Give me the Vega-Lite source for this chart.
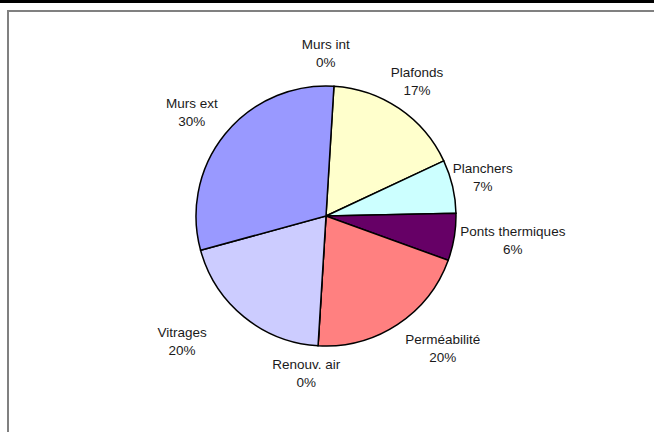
{
  "$schema": "https://vega.github.io/schema/vega-lite/v6.json",
  "padding": 0,
  "background": "white",
  "spacing": 0,
  "config": {"view": {"stroke": null}},
  "vconcat": [
    {"width": 654, "height": 3, "view": {"fill": "black", "stroke": null}, "data": {"values": []}, "mark": "point"},
    {"width": 654, "height": 7, "data": {"values": []}, "mark": "point"},
    {
      "spacing": 0,
      "hconcat": [
        {"width": 7, "height": 2, "data": {"values": []}, "mark": "point"},
        {"width": 647, "height": 2, "view": {"fill": "#808080", "stroke": null}, "data": {"values": []}, "mark": "point"}
      ]
    },
    {
      "spacing": 0,
      "hconcat": [
        {"width": 7, "height": 420, "data": {"values": []}, "mark": "point"},
        {"width": 2, "height": 420, "view": {"fill": "#808080", "stroke": null}, "data": {"values": []}, "mark": "point"},
        {
          "width": 634,
          "height": 408,
          "data": {"values": [
            {"k": 1, "name": "Murs int", "value": 0, "label": "Murs int\n0%"},
            {"k": 2, "name": "Plafonds", "value": 17.06, "label": "Plafonds\n17%"},
            {"k": 3, "name": "Planchers", "value": 6.64, "label": "Planchers\n7%"},
            {"k": 4, "name": "Ponts thermiques", "value": 5.86, "label": "Ponts thermiques\n6%"},
            {"k": 5, "name": "Perméabilité", "value": 20.44, "label": "Perméabilité\n20%"},
            {"k": 6, "name": "Renouv. air", "value": 0, "label": "Renouv. air\n0%"},
            {"k": 7, "name": "Vitrages", "value": 19.78, "label": "Vitrages\n20%"},
            {"k": 8, "name": "Murs ext", "value": 30.22, "label": "Murs ext\n30%"}
          ]},
          "encoding": {
            "theta": {"field": "value", "type": "quantitative", "stack": true, "scale": {"range": [0.0611, 6.3443]}},
            "order": {"field": "k", "type": "quantitative"}
          },
          "layer": [
            {
              "mark": {"type": "arc", "outerRadius": 130, "stroke": "black", "strokeWidth": 1.5},
              "encoding": {
                "color": {
                  "field": "name", "type": "nominal", "legend": null,
                  "scale": {
                    "domain": ["Murs int", "Plafonds", "Planchers", "Ponts thermiques", "Perméabilité", "Renouv. air", "Vitrages", "Murs ext"],
                    "range": ["#993366", "#FFFFCC", "#CCFFFF", "#660066", "#FF8080", "#0066CC", "#CCCCFF", "#9999FF"]
                  }
                }
              }
            },
            {
              "mark": {"type": "text", "radius": 160, "dx": -10, "dy": -11, "align": "center", "baseline": "middle", "lineBreak": "\n", "font": "Liberation Sans", "fontSize": 13.5, "lineHeight": 18, "color": "#1a1a1a"},
              "encoding": {"text": {"condition": {"test": "indexof(['Murs int','Renouv. air','Murs ext'], datum.name) >= 0", "field": "label"}, "value": ""}}
            },
            {
              "mark": {"type": "text", "radius": 160, "dx": 1, "dy": -11, "align": "center", "baseline": "middle", "lineBreak": "\n", "font": "Liberation Sans", "fontSize": 13.5, "lineHeight": 18, "color": "#1a1a1a"},
              "encoding": {"text": {"condition": {"test": "indexof(['Plafonds','Planchers'], datum.name) >= 0", "field": "label"}, "value": ""}}
            },
            {
              "mark": {"type": "text", "radius": 160, "dx": 29, "dy": -10, "align": "center", "baseline": "middle", "lineBreak": "\n", "font": "Liberation Sans", "fontSize": 13.5, "lineHeight": 18, "color": "#1a1a1a"},
              "encoding": {"text": {"condition": {"test": "indexof(['Ponts thermiques','Perméabilité'], datum.name) >= 0", "field": "label"}, "value": ""}}
            },
            {
              "mark": {"type": "text", "radius": 160, "dx": -43, "dy": -7, "align": "center", "baseline": "middle", "lineBreak": "\n", "font": "Liberation Sans", "fontSize": 13.5, "lineHeight": 18, "color": "#1a1a1a"},
              "encoding": {"text": {"condition": {"test": "datum.name === 'Vitrages'", "field": "label"}, "value": ""}}
            }
          ]
        }
      ]
    }
  ]
}
